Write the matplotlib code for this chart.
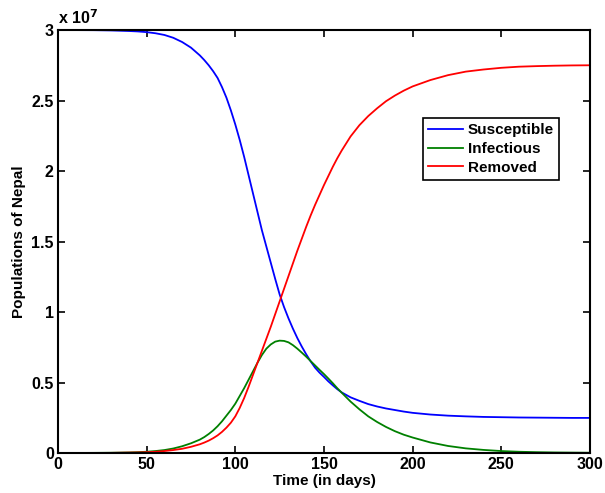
import numpy as np
import matplotlib
matplotlib.use('Agg')
import matplotlib.pyplot as plt

plt.rcParams['font.family'] = ['Liberation Sans', 'DejaVu Sans']
plt.rcParams['font.weight'] = 'bold'

# Datos (poblacion en unidades de 1e7)
days = [0, 10, 20, 30, 40, 45, 50, 55, 60, 65, 70, 75, 80, 82.5, 85, 87.5,
        90, 92.5, 95, 97.5, 100, 102.5, 105, 107.5, 110, 112.5, 115, 117.5,
        120, 122.5, 125, 127.5, 130, 132.5, 135, 137.5, 140, 142.5, 145,
        147.5, 150, 152.5, 155, 157.5, 160, 165, 170, 175, 180, 185, 190,
        195, 200, 210, 220, 230, 240, 250, 260, 270, 280, 290, 300]

susceptible = [3.0, 2.9995, 2.999, 2.997, 2.993, 2.99, 2.985, 2.977, 2.965,
               2.945, 2.915, 2.875, 2.82, 2.787, 2.75, 2.708, 2.66, 2.595,
               2.52, 2.43, 2.33, 2.22, 2.10, 1.97, 1.84, 1.71, 1.58, 1.465,
               1.35, 1.235, 1.125, 1.035, 0.955, 0.882, 0.815, 0.755, 0.70,
               0.65, 0.605, 0.57, 0.54, 0.508, 0.48, 0.453, 0.43, 0.395, 0.37,
               0.347, 0.33, 0.316, 0.305, 0.294, 0.285, 0.273, 0.265, 0.26,
               0.256, 0.254, 0.252, 0.251, 0.25, 0.249, 0.249]

infectious = [0.0, 0.0005, 0.001, 0.002, 0.004, 0.006, 0.009, 0.014, 0.021,
              0.032, 0.048, 0.069, 0.095, 0.113, 0.135, 0.16, 0.19, 0.225,
              0.265, 0.305, 0.35, 0.405, 0.46, 0.52, 0.58, 0.64, 0.695, 0.74,
              0.77, 0.79, 0.797, 0.795, 0.785, 0.765, 0.74, 0.712, 0.683,
              0.652, 0.621, 0.59, 0.56, 0.528, 0.495, 0.46, 0.428, 0.365,
              0.31, 0.26, 0.22, 0.185, 0.155, 0.13, 0.11, 0.075, 0.05, 0.033,
              0.022, 0.014, 0.009, 0.006, 0.004, 0.003, 0.002]

removed = [0.0, 0.0002, 0.0005, 0.001, 0.003, 0.004, 0.006, 0.009, 0.014,
           0.021, 0.030, 0.044, 0.062, 0.074, 0.088, 0.105, 0.125, 0.15, 0.18,
           0.215, 0.26, 0.32, 0.39, 0.47, 0.555, 0.64, 0.725, 0.81, 0.895,
           0.985, 1.075, 1.165, 1.255, 1.345, 1.435, 1.52, 1.605, 1.685,
           1.76, 1.83, 1.90, 1.965, 2.03, 2.09, 2.145, 2.245, 2.325, 2.39,
           2.445, 2.495, 2.535, 2.57, 2.60, 2.645, 2.68, 2.705, 2.72, 2.732,
           2.74, 2.744, 2.747, 2.749, 2.75]

fig = plt.figure(figsize=(6.05, 4.93), dpi=100)
ax = fig.add_axes([0.0959, 0.0811, 0.8791, 0.858])

ax.plot(days, susceptible, color=(0, 0, 1), lw=1.3, label='Susceptible')
ax.plot(days, infectious, color=(0, 0.5, 0), lw=1.3, label='Infectious')
ax.plot(days, removed, color=(1, 0, 0), lw=1.3, label='Removed')

ax.set_xlim(0, 300)
ax.set_ylim(0, 3)
ax.set_xticks(np.arange(0, 301, 50))
ax.set_yticks([0, 0.5, 1, 1.5, 2, 2.5, 3])
ax.set_yticklabels(['0', '0.5', '1', '1.5', '2', '2.5', '3'])
ax.tick_params(direction='in', top=True, right=True, length=5, width=1.2,
               labelsize=11.5, pad=3)
for lab in ax.get_xticklabels() + ax.get_yticklabels():
    lab.set_fontweight('bold')
for sp in ax.spines.values():
    sp.set_linewidth(1.5)

ax.set_xlabel('Time (in days)', fontsize=11, fontweight='bold', labelpad=1)
ax.set_ylabel('Populations of Nepal', fontsize=11, fontweight='bold', labelpad=4)
ax.text(0.0, 1.008, r'x 10$^{\mathbf{7}}$', transform=ax.transAxes,
        fontsize=11.5, fontweight='bold', ha='left', va='bottom')

leg = ax.legend(loc='upper left', bbox_to_anchor=(0.686, 0.792), fancybox=False,
                edgecolor='black', framealpha=1, prop={'weight': 'bold', 'size': 11},
                handlelength=2.3, handletextpad=0.3, borderpad=0.35,
                labelspacing=0.3, borderaxespad=0)
leg.get_frame().set_linewidth(1.2)

fig.savefig('out.png', dpi=100)
